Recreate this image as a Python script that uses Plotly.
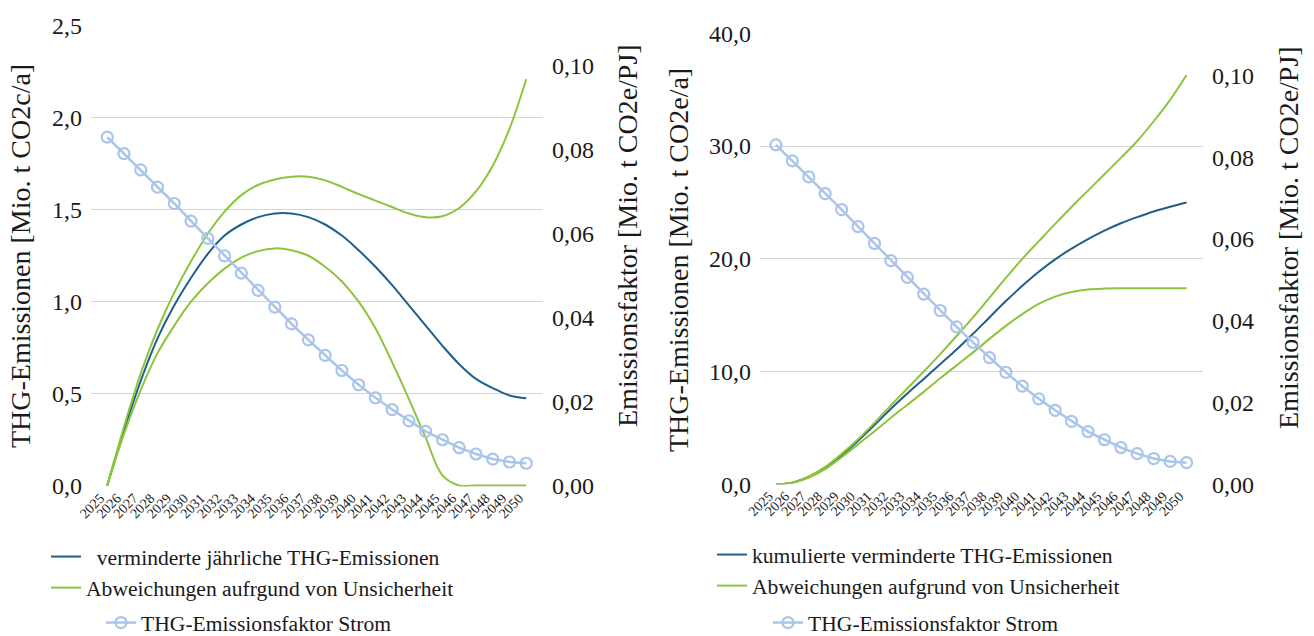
import plotly.graph_objects as go

# ---------------------------------------------------------------------------
# Data
# ---------------------------------------------------------------------------
years = list(range(2025, 2051))
year_labels = [str(y) for y in years]

# Annual reduced GHG emissions [Mio. t CO2e/a] with uncertainty band
annual_reduction = [0.00, 0.30, 0.57, 0.80, 0.98, 1.13, 1.26, 1.36, 1.42, 1.46,
                    1.48, 1.48, 1.46, 1.42, 1.36, 1.28, 1.19, 1.09, 0.98, 0.87,
                    0.76, 0.66, 0.58, 0.53, 0.49, 0.475]
annual_upper = [0.00, 0.32, 0.61, 0.85, 1.05, 1.22, 1.37, 1.49, 1.58, 1.635,
                1.665, 1.68, 1.68, 1.66, 1.625, 1.585, 1.55, 1.515, 1.48, 1.46,
                1.465, 1.51, 1.60, 1.74, 1.94, 2.21]
annual_lower = [0.00, 0.28, 0.52, 0.72, 0.87, 1.00, 1.10, 1.18, 1.24, 1.275,
                1.29, 1.28, 1.25, 1.19, 1.11, 1.00, 0.855, 0.67, 0.47, 0.26,
                0.055, 0.00, 0.00, 0.00, 0.00, 0.00]

# Cumulative reduced GHG emissions [Mio. t CO2e] with uncertainty band
cumulative_reduction = [0.00, 0.15, 0.65, 1.45, 2.55, 3.85, 5.25, 6.70, 8.05, 9.35,
                        10.65, 11.95, 13.35, 14.80, 16.25, 17.60, 18.85, 19.95, 20.90, 21.75,
                        22.50, 23.15, 23.70, 24.20, 24.62, 25.00]
cumulative_upper = [0.00, 0.15, 0.70, 1.55, 2.70, 4.00, 5.45, 7.00, 8.50, 10.00,
                    11.55, 13.15, 14.80, 16.55, 18.30, 20.00, 21.55, 23.10, 24.60, 26.05,
                    27.50, 28.95, 30.45, 32.20, 34.10, 36.30]
cumulative_lower = [0.00, 0.13, 0.60, 1.35, 2.40, 3.55, 4.70, 5.90, 7.05, 8.20,
                    9.40, 10.55, 11.70, 12.90, 14.05, 15.10, 16.00, 16.65, 17.05, 17.28,
                    17.36, 17.38, 17.38, 17.38, 17.38, 17.38]

# GHG emission factor of electricity [Mio. t CO2e/PJ]
emission_factor = [0.0830, 0.0791, 0.0752, 0.0711, 0.0672, 0.0630, 0.0589, 0.0547, 0.0506, 0.0465,
                   0.0425, 0.0385, 0.0347, 0.0310, 0.0274, 0.0240, 0.0209, 0.0181, 0.0154, 0.0129,
                   0.0109, 0.0090, 0.0075, 0.0063, 0.0056, 0.0053]

# ---------------------------------------------------------------------------
# Styling
# ---------------------------------------------------------------------------
W, H = 1314, 636
BLUE = "#215f8b"
GREEN = "#8cc43c"
LIGHT = "#aac5ea"
GRID = "#d4d4d4"
FONT = "'Liberation Serif', 'DejaVu Serif', serif"
TXT = "#1a1a1a"
TICK_SIZE = 24
TITLE_SIZE = 28
LEGEND_SIZE = 21.6


def px_x(p):
    return p / W


def px_y(p):
    return (H - p) / H


fig = go.Figure()


def add_panel(xa, ya, ya2, main, upper, lower, main_name, dev_name, leg_a, leg_b):
    fig.add_trace(go.Scatter(
        x=years, y=main, name=main_name, mode="lines",
        line=dict(color=BLUE, width=2, shape="spline"),
        xaxis=xa, yaxis=ya, legend=leg_a))
    fig.add_trace(go.Scatter(
        x=years, y=upper, name=dev_name, mode="lines", legendgroup=leg_a + "dev",
        line=dict(color=GREEN, width=2, shape="spline"),
        xaxis=xa, yaxis=ya, legend=leg_a))
    fig.add_trace(go.Scatter(
        x=years, y=lower, name=dev_name, mode="lines", legendgroup=leg_a + "dev",
        showlegend=False, line=dict(color=GREEN, width=2, shape="spline"),
        xaxis=xa, yaxis=ya, legend=leg_a))
    fig.add_trace(go.Scatter(
        x=years, y=emission_factor, name="THG-Emissionsfaktor Strom",
        mode="lines+markers",
        line=dict(color=LIGHT, width=2.5),
        marker=dict(symbol="circle-open", size=11, color=LIGHT, line=dict(width=2.2, color=LIGHT)),
        xaxis=xa, yaxis=ya2, legend=leg_b))


add_panel("x", "y", "y2", annual_reduction, annual_upper, annual_lower,
          "\u00a0\u00a0verminderte jährliche THG-Emissionen",
          "Abweichungen aufrgund von Unsicherheit", "legend", "legend2")
add_panel("x2", "y3", "y4", cumulative_reduction, cumulative_upper, cumulative_lower,
          "kumulierte verminderte THG-Emissionen",
          "Abweichungen aufgrund von Unsicherheit", "legend3", "legend4")

tickfont = dict(family=FONT, size=TICK_SIZE, color=TXT)
xtickfont = dict(family=FONT, size=14, color=TXT)

xcommon = dict(tickmode="array", tickvals=years, ticktext=year_labels, tickangle=-45,
               tickfont=xtickfont, showgrid=False, zeroline=False, showline=False,
               ticks="", ticklabelshift=-7, range=[2024.03, 2051.0])
ycommon = dict(showline=False, zeroline=False, ticks="", tickfont=tickfont,
               ticklabelstandoff=8)

# left panel: 0 at y=485.5 px, 2.5 at y=26 px
l_lo = -0.005
fig.update_layout(
    xaxis=dict(domain=[px_x(91), px_x(543)], anchor="y", **xcommon),
    yaxis=dict(domain=[px_y(486.4), px_y(26)], anchor="x", range=[l_lo, 2.5],
               tick0=0, dtick=0.5, tickformat=".1f", showgrid=True, gridcolor=GRID,
               gridwidth=1, **ycommon),
    yaxis2=dict(overlaying="y", side="right", anchor="x", range=[l_lo / 2.5 * 0.1095, 0.1095],
                tick0=0, dtick=0.02, tickformat=".2f", showgrid=False, **ycommon),
    xaxis2=dict(domain=[px_x(760), px_x(1203)], anchor="y3", **xcommon),
    yaxis3=dict(domain=[px_y(484.3), px_y(33.3)], anchor="x2", range=[0, 40],
                tick0=0, dtick=10, tickformat=".1f", showgrid=True, gridcolor=GRID,
                gridwidth=1, **ycommon),
    yaxis4=dict(overlaying="y3", side="right", anchor="x2", range=[0, 0.1103],
                tick0=0, dtick=0.02, tickformat=".2f", showgrid=False, **ycommon),
)

legfont = dict(family=FONT, size=LEGEND_SIZE, color=TXT)
legcommon = dict(font=legfont, bgcolor="rgba(0,0,0,0)", borderwidth=0,
                 orientation="v", itemwidth=30, tracegroupgap=0)
fig.update_layout(
    legend=dict(x=px_x(46), y=px_y(536), xanchor="left", yanchor="top", **legcommon),
    legend2=dict(x=px_x(101), y=px_y(623), xanchor="left", yanchor="middle", **legcommon),
    legend3=dict(x=px_x(712), y=px_y(534), xanchor="left", yanchor="top", **legcommon),
    legend4=dict(x=px_x(768), y=px_y(623), xanchor="left", yanchor="middle", **legcommon),
)

titlefont = dict(family=FONT, size=TITLE_SIZE, color=TXT)
axis_titles = [
    (20, 256, "THG-Emissionen [Mio. t CO2c/a]"),
    (627, 236, "Emissionsfaktor [Mio. t CO2e/PJ]"),
    (678, 260, "THG-Emissionen [Mio. t CO2e/a]"),
    (1288, 238, "Emissionsfaktor [Mio. t CO2e/PJ]"),
]
for ax, ay, txt in axis_titles:
    fig.add_annotation(x=px_x(ax), y=px_y(ay), xref="paper", yref="paper",
                       text=txt, textangle=-90, showarrow=False,
                       xanchor="center", yanchor="middle", font=titlefont)

fig.update_layout(
    width=W, height=H, margin=dict(l=0, r=0, t=0, b=0, autoexpand=False),
    paper_bgcolor="white", plot_bgcolor="white",
    separators=",.", font=dict(family=FONT, color=TXT),
)

fig.write_html("out.html")
